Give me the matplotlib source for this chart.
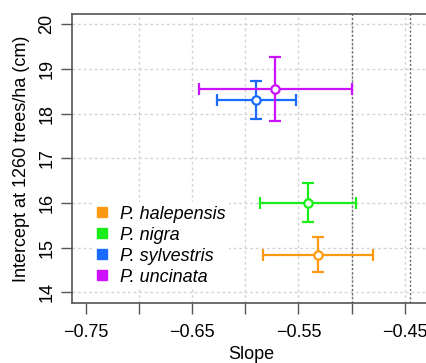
import matplotlib
matplotlib.use("Agg")
import matplotlib.pyplot as plt
from matplotlib.lines import Line2D

plt.rcParams['font.family'] = ['Liberation Sans', 'DejaVu Sans']

species = ["P. halepensis", "P. nigra", "P. sylvestris", "P. uncinata"]
colors = ["#FF9912", "#1AEE1A", "#1A6BFF", "#CC11FF"]
slope = [-0.532, -0.541, -0.590, -0.572]
slope_lo = [-0.583, -0.586, -0.627, -0.644]
slope_hi = [-0.480, -0.496, -0.552, -0.500]
intercept = [14.84, 16.00, 18.31, 18.54]
int_lo = [14.46, 15.58, 17.88, 17.83]
int_hi = [15.23, 16.44, 18.72, 19.26]

x_ticks = [-0.75, -0.70, -0.65, -0.60, -0.55, -0.50, -0.45]
x_ticklabels = ["−0.75", "", "−0.65", "", "−0.55", "", "−0.45"]
y_ticks = [14, 15, 16, 17, 18, 19, 20]
x_grid = [-0.70, -0.65, -0.60, -0.55, -0.50, -0.45]
ref_lines = [-0.50, -0.445]

FS = 13
W, H = 426, 363
fig = plt.figure(figsize=(W / 100, H / 100), dpi=100)
L, R, T, B = 72, 430, 14, 303
ax = fig.add_axes([L / W, (H - B) / H, (R - L) / W, (B - T) / H])
ax.set_xlim(-0.7632, -0.4261)
ax.set_ylim(13.76, 20.23)

for g in x_grid:
    ax.axvline(g, color="#d3d3d3", lw=1, ls=(0, (2, 2)), zorder=0)
for g in y_ticks:
    ax.axhline(g, color="#d3d3d3", lw=1, ls=(0, (2, 2)), zorder=0)
for r in ref_lines:
    ax.axvline(r, color="#666666", lw=1, ls=(0, (1.5, 1.5)), zorder=1)

for i in range(len(species)):
    xerr = [[slope[i] - slope_lo[i]], [slope_hi[i] - slope[i]]]
    yerr = [[intercept[i] - int_lo[i]], [int_hi[i] - intercept[i]]]
    ax.errorbar([slope[i]], [intercept[i]], xerr=xerr, yerr=yerr,
                fmt='o', color=colors[i], mfc='white', mec=colors[i],
                ms=6, mew=1.6, elinewidth=1.6, capsize=4.5, capthick=1.6,
                zorder=3)

handles = [Line2D([], [], marker='s', color=c, ls='none', ms=6.5) for c in colors]
leg = ax.legend(handles, species, loc='upper left',
                bbox_to_anchor=((84 - L) / (R - L), 1 - (193 - T) / (B - T)),
                frameon=True, fancybox=False, edgecolor='none', framealpha=1,
                prop={'style': 'italic', 'size': FS}, handlelength=0.6,
                handletextpad=0.7, labelspacing=0.22, borderpad=0.2)

ax.set_xticks(x_ticks)
ax.set_xticklabels(x_ticklabels)
ax.set_yticks(y_ticks)
ax.set_yticklabels([str(v) for v in y_ticks], rotation=90, va='center')
ax.tick_params(axis='both', direction='out', length=8, width=1,
               color='#555555', labelsize=FS)
ax.tick_params(axis='x', pad=7)
ax.tick_params(axis='y', pad=4)
for s in ['left', 'bottom', 'top']:
    ax.spines[s].set_color('#555555')
    ax.spines[s].set_linewidth(1.2)
ax.spines['right'].set_visible(False)

ax.set_xlabel("Slope", fontsize=FS, labelpad=4)
ax.set_ylabel("Intercept at 1260 trees/ha (cm)", fontsize=FS, labelpad=6)

fig.savefig("out.png", dpi=100)
